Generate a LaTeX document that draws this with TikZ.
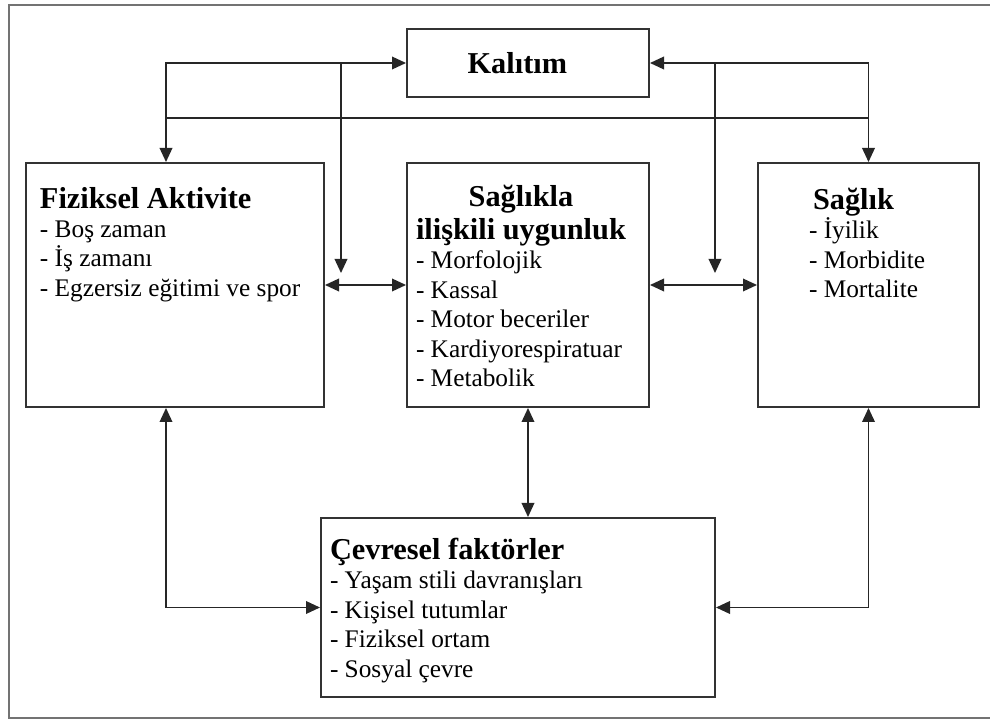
\documentclass[tikz,border=0pt]{standalone}
\usepackage{fontspec}
\setmainfont{Liberation Serif}
\usetikzlibrary{arrows.meta,positioning}

\newcommand{\titlefont}{\fontsize{22.75}{25}\selectfont\bfseries}
\newcommand{\itemfont}{\fontsize{19}{22.1}\selectfont}
\newcommand{\boxbody}[5]{\parbox[c][#2][t]{#1}{\raggedright\leftskip=#3\relax\vspace*{#4}\itemfont #5}}
\newcommand{\overcentre}[2]{\sbox0{#2}\makebox[\wd0]{#1}}

\tikzstyle{box} = [draw=black!80,line width=1.5pt,inner sep=0pt]
\tikzstyle{link} = [draw=black!85,line width=1.1pt]
\tikzstyle{edge} = [link,-{Triangle[length=10.5pt,width=9.5pt]}]
\tikzstyle{biedge} = [link,{Triangle[length=10.5pt,width=9.5pt]}-{Triangle[length=10.5pt,width=9.5pt]}]
\tikzstyle{outerframe} = [draw=black!55,line width=2pt]

\begin{document}
\begin{tikzpicture}[x=0.75pt,y=-0.75pt,on grid]
   \useasboundingbox (0,0) rectangle (990,720);
   \draw[outerframe] (990,5) -- (9,5) -- (9,718) -- (990,718);

   \node[box] (uygunluk) at (528,285) {\boxbody{181.5pt}{183pt}{6.75pt}{16.5pt}{%
      {\titlefont\overcentre{Sağlıkla}{ilişkili uygunluk}}\\[2.6pt]
      {\titlefont ilişkili uygunluk}\\
      - Morfolojik\\ - Kassal\\ - Motor beceriler\\ - Kardiyorespiratuar\\ - Metabolik}};
   \node[box] (fiziksel) [left=264.75pt of uygunluk] {\boxbody{223.5pt}{183pt}{10.5pt}{18pt}{%
      {\titlefont Fiziksel Aktivite}\\
      - Boş zaman\\ - İş zamanı\\ - Egzersiz eğitimi ve spor}};
   \node[box] (saglik) [right=255.375pt of uygunluk] {\boxbody{165.75pt}{183pt}{38.25pt}{18.75pt}{%
      \hspace*{3pt}{\titlefont Sağlık}\\
      - İyilik\\ - Morbidite\\ - Mortalite}};
   \node[box,minimum width=181.5pt,minimum height=51pt,font=\titlefont] (kalitim) [above=166.5pt of uygunluk] {Kalıtım\hspace*{16pt}};
   \node[box] (cevresel) [below=241.875pt of uygunluk,xshift=-7.5pt] {\boxbody{295.5pt}{134.25pt}{6.75pt}{15pt}{%
      {\titlefont Çevresel faktörler}\\
      - Yaşam stili davranışları\\ - Kişisel tutumlar\\ - Fiziksel ortam\\ - Sosyal çevre}};

   \coordinate (fa) at ([xshift=-6.75pt]fiziksel.north);
   \coordinate (fb) at ([xshift=-6.75pt]fiziksel.south);
   \coordinate (bar) at (528,118);
   \coordinate (lhook) at (341,273);
   \coordinate (rhook) at (715,273);

   \draw[biedge] (fa) |- (kalitim);
   \draw[biedge] (kalitim) -| (saglik);
   \draw[link] (fa |- bar) -- (saglik.north |- bar);
   \draw[edge] (kalitim.west -| lhook) -- (lhook);
   \draw[edge] (kalitim.east -| rhook) -- (rhook);
   \draw[biedge] (fiziksel) -- (uygunluk);
   \draw[biedge] (uygunluk) -- (saglik);
   \draw[biedge] (uygunluk) -- (uygunluk.south |- cevresel.north);
   \draw[biedge] (fb) |- (cevresel);
   \draw[biedge] (saglik) |- (cevresel);
\end{tikzpicture}
\end{document}
